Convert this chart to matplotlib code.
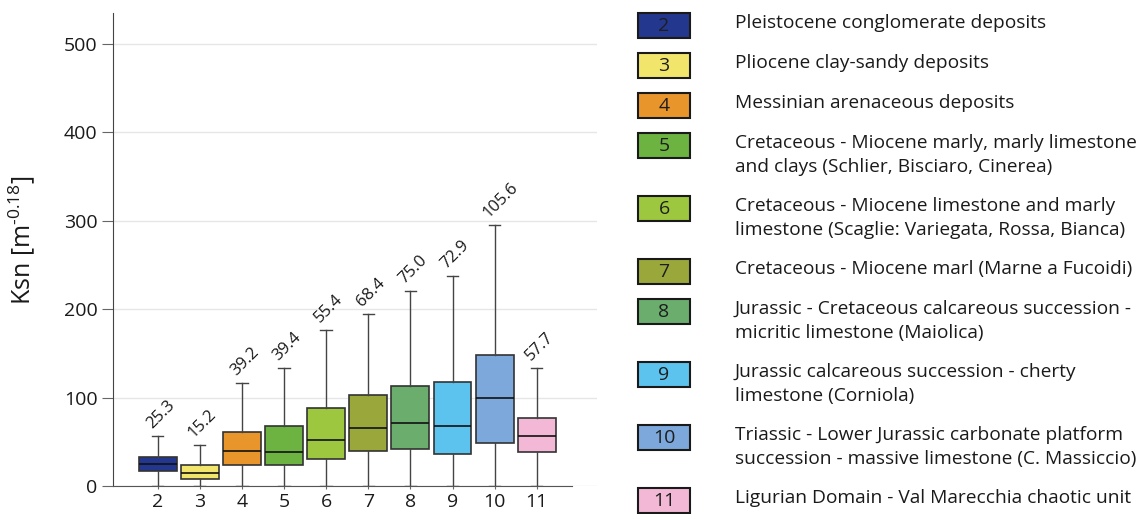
import matplotlib.pyplot as plt
from matplotlib.patches import Rectangle

plt.rcParams['font.family'] = ['Open Sans', 'DejaVu Sans']
plt.rcParams['mathtext.fontset'] = 'custom'
plt.rcParams['mathtext.rm'] = 'Open Sans'
plt.rcParams['mathtext.it'] = 'Open Sans'

# lithological units (box plot of Ksn)
units = ['2', '3', '4', '5', '6', '7', '8', '9', '10', '11']
means = [25.3, 15.2, 39.2, 39.4, 55.4, 68.4, 75.0, 72.9, 105.6, 57.7]
medians = [25.3, 15.1, 39.2, 38.5, 51.7, 66.0, 71.3, 68.3, 100.0, 57.0]
q1 = [17.0, 8.3, 23.4, 23.4, 30.6, 39.6, 41.5, 36.6, 48.3, 38.1]
q3 = [32.8, 24.2, 61.1, 67.5, 88.7, 102.6, 113.6, 117.4, 147.9, 76.6]
whis_lo = [0, 0, 0, 0, 0, 0, 0, 0, 0, 0]
whis_hi = [56.2, 46.8, 116.6, 133.6, 176.2, 194.7, 220.8, 237.4, 294.7, 133.6]

colors = ['#23378f', '#f1e66b', '#e8962c', '#6cb342', '#9dc73e',
          '#9aa83b', '#6aad6c', '#5cc3ee', '#7ca8dc', '#f2b8d6']

descriptions = [
    'Pleistocene conglomerate deposits',
    'Pliocene clay-sandy deposits',
    'Messinian arenaceous deposits',
    'Cretaceous - Miocene marly, marly limestone\nand clays (Schlier, Bisciaro, Cinerea)',
    'Cretaceous - Miocene limestone and marly\nlimestone (Scaglie: Variegata, Rossa, Bianca)',
    'Cretaceous - Miocene marl (Marne a Fucoidi)',
    'Jurassic - Cretaceous calcareous succession -\nmicritic limestone (Maiolica)',
    'Jurassic calcareous succession - cherty\nlimestone (Corniola)',
    'Triassic - Lower Jurassic carbonate platform\nsuccession - massive limestone (C. Massiccio)',
    'Ligurian Domain - Val Marecchia chaotic unit',
]

W, H = 1145, 514
fig = plt.figure(figsize=(W / 100, H / 100), dpi=100)

# main box plot axes
ax = fig.add_axes([113 / W, 1 - 486 / H, (597 - 113) / W, (486 - 13) / H])

stats = []
for i in range(len(units)):
    stats.append(dict(med=medians[i], q1=q1[i], q3=q3[i], whislo=whis_lo[i],
                      whishi=whis_hi[i], mean=means[i], fliers=[], label=units[i]))

positions = [int(u) for u in units]
bp = ax.bxp(stats, positions=positions, widths=0.9, patch_artist=True,
            showfliers=False, capwidths=0.27,
            boxprops=dict(edgecolor='#333333', linewidth=1.2),
            medianprops=dict(color='#111111', linewidth=1.2),
            whiskerprops=dict(color='#444444', linewidth=1.0),
            capprops=dict(color='#444444', linewidth=1.0))
for patch, c in zip(bp['boxes'], colors):
    patch.set_facecolor(c)

# mean values above the whiskers
for x, top, m in zip(positions, whis_hi, means):
    ax.annotate(f'{m:.1f}', xy=(x, top), xytext=(-6, 7), textcoords='offset pixels',
                rotation=45, rotation_mode='anchor', ha='left', va='baseline',
                fontsize=12, color='#1a1a1a')

ax.set_xlim(0.94, 12.43)
ax.set_ylim(0, 535)
ax.set_yticks([0, 100, 200, 300, 400, 500])
ax.set_xticks(positions)
ax.set_xticklabels(units)
ax.yaxis.grid(True, color='#e6e6e6', linewidth=1)
ax.set_axisbelow(True)
for s in ['top', 'right']:
    ax.spines[s].set_visible(False)
ax.spines['bottom'].set_bounds(0.94, 11.83)
ax.spines['left'].set_color('#444444')
ax.spines['bottom'].set_color('#555555')
ax.tick_params(axis='y', length=8, color='#666666', labelsize=14, labelcolor='#1a1a1a', pad=3)
ax.tick_params(axis='x', length=2, color='#666666', labelsize=14, labelcolor='#1a1a1a', pad=3)
ax.set_ylabel(r'Ksn [m$^{\text{-0.18}}$]', fontsize=18, color='#1a1a1a')
ax.yaxis.set_label_coords(-0.158, 0.52)

# legend drawn on an overlay in pixel units
lg = fig.add_axes([0, 0, 1, 1])
lg.set_xlim(0, W)
lg.set_ylim(H, 0)
lg.axis('off')
y = 25
for u, c, d in zip(units, colors, descriptions):
    lg.add_patch(Rectangle((638, y - 12.5), 52, 25, facecolor=c,
                           edgecolor='#1a1a1a', linewidth=1.5))
    lg.text(664, y + 1, u, ha='center', va='center', fontsize=14, color='#1e1e1e')
    lg.text(735, y - 11, d, ha='left', va='top', fontsize=13.8, color='#1a1a1a',
            linespacing=1.45)
    y += 63 if '\n' in d else 40

fig.savefig('out.png', dpi=100)
